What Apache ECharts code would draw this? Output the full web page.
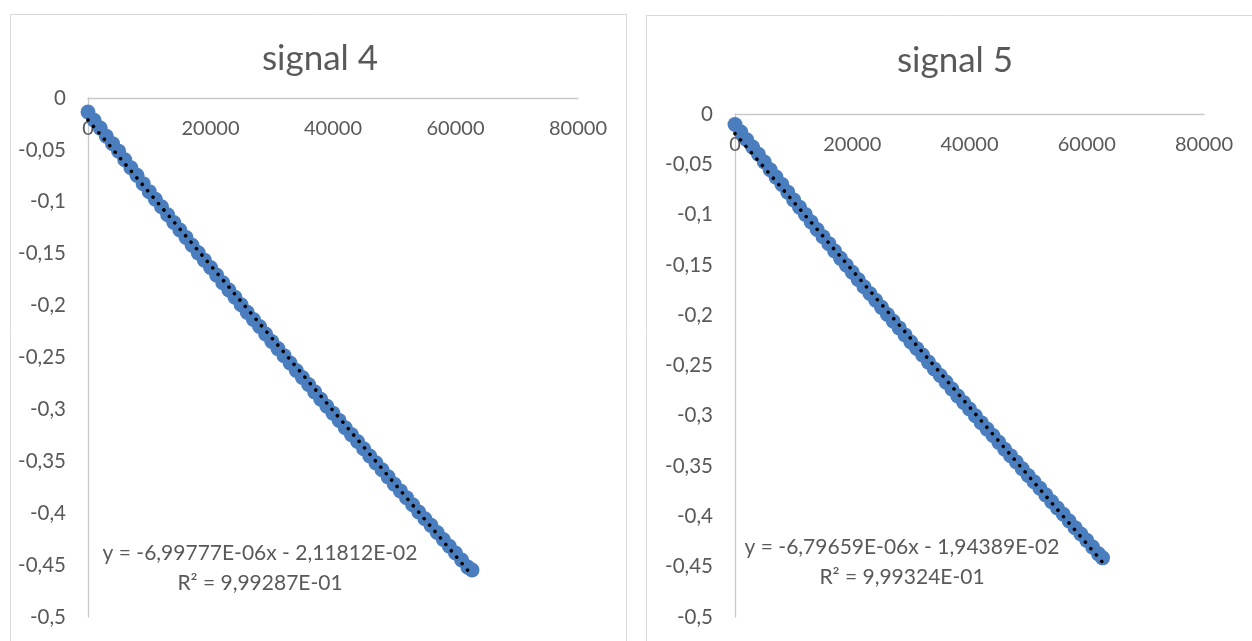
<!DOCTYPE html>
<html>
<head>
<meta charset="utf-8">
<script src="https://cdn.jsdelivr.net/npm/echarts@6/dist/echarts.min.js"></script>
<style>
html,body{margin:0;padding:0;background:#fff;}
#chart{width:1252px;height:641px;}
</style>
</head>
<body>
<div id="chart"></div>
<script>
// ---- data ----
const titles = ['signal 4', 'signal 5'];
const xTicks = [0, 20000, 40000, 60000, 80000];
const yTicks = [0, -0.05, -0.1, -0.15, -0.2, -0.25, -0.3, -0.35, -0.4, -0.45, -0.5];

const xValues = [0,1000,2000,3000,4000,5000,6000,7000,8000,9000,10000,11000,12000,13000,14000,15000,16000,17000,18000,19000,20000,21000,22000,23000,24000,25000,26000,27000,28000,29000,30000,31000,32000,33000,34000,35000,36000,37000,38000,39000,40000,41000,42000,43000,44000,45000,46000,47000,48000,49000,50000,51000,52000,53000,54000,55000,56000,57000,58000,59000,60000,61000,62000,62700];

const signal4 = [-0.0135,-0.0215,-0.0290,-0.0368,-0.0440,-0.0512,-0.0595,-0.0672,-0.0745,-0.0825,-0.0902,-0.0975,-0.1048,-0.1125,-0.1200,-0.1272,-0.1343,-0.1418,-0.1492,-0.1562,-0.1633,-0.1706,-0.1780,-0.1850,-0.1919,-0.1992,-0.2065,-0.2134,-0.2202,-0.2274,-0.2346,-0.2414,-0.2482,-0.2553,-0.2625,-0.2692,-0.2760,-0.2831,-0.2902,-0.2969,-0.3036,-0.3106,-0.3177,-0.3243,-0.3309,-0.3379,-0.3449,-0.3515,-0.3581,-0.3650,-0.3720,-0.3785,-0.3850,-0.3919,-0.3988,-0.4053,-0.4117,-0.4186,-0.4254,-0.4318,-0.4383,-0.4451,-0.4519,-0.4547];

const signal5 = [-0.0105,-0.0180,-0.0256,-0.0328,-0.0400,-0.0477,-0.0554,-0.0627,-0.0700,-0.0777,-0.0854,-0.0926,-0.0998,-0.1073,-0.1148,-0.1219,-0.1289,-0.1362,-0.1435,-0.1504,-0.1573,-0.1645,-0.1717,-0.1784,-0.1851,-0.1922,-0.1993,-0.2060,-0.2126,-0.2196,-0.2266,-0.2331,-0.2396,-0.2466,-0.2535,-0.2600,-0.2665,-0.2734,-0.2803,-0.2868,-0.2932,-0.3000,-0.3068,-0.3132,-0.3196,-0.3264,-0.3332,-0.3396,-0.3459,-0.3526,-0.3593,-0.3656,-0.3719,-0.3786,-0.3853,-0.3916,-0.3979,-0.4046,-0.4112,-0.4175,-0.4238,-0.4305,-0.4372,-0.4412];

// trendline coefficients: [slope, intercept, R²]
const trend4 = [-6.99777E-06, -2.11812E-02, 9.99287E-01];
const trend5 = [-6.79659E-06, -1.94389E-02, 9.99324E-01];

// ---- helpers ----
function fmtExp(v) {
  let s = Math.abs(v).toExponential(5);
  let [m, e] = s.split('e');
  let sign = e[0] === '-' ? '-' : '+';
  let ex = e.replace(/^[+-]/, '');
  if (ex.length < 2) ex = '0' + ex;
  return m.replace('.', ',') + 'E' + sign + ex;
}
function eqText(t) {
  const slope = (t[0] < 0 ? '-' : '') + fmtExp(t[0]);
  const inter = (t[1] < 0 ? ' - ' : ' + ') + fmtExp(t[1]);
  return 'y = ' + slope + 'x' + inter + '\nR² = ' + fmtExp(t[2]);
}
function fmtY(v) {
  const r = Math.round(v * 100) / 100;
  return String(r).replace('.', ',');
}
function fmtX(v) { return String(Math.round(v)); }
function pts(ys) { return xValues.map((x, i) => [x, ys[i]]); }
function trendPts(t) {
  const x0 = xValues[0], x1 = xValues[xValues.length - 1];
  return [[x0, t[0] * x0 + t[1]], [x1, t[0] * x1 + t[1]]];
}

const FONT = 'Lato';
const TXT = '#595959';
const BLUE = '#4A7EBE';

function xAxis(gi) {
  return {
    gridIndex: gi, type: 'value', min: xTicks[0], max: xTicks[xTicks.length - 1], interval: 20000,
    position: 'top',
    axisLine: { onZero: false, lineStyle: { color: '#C9C9C9', width: 1.3 } },
    axisTick: { show: false }, splitLine: { show: false },
    axisLabel: { inside: true, color: TXT, fontFamily: FONT, fontSize: 20, margin: 21, formatter: fmtX }
  };
}
function yAxis(gi) {
  return {
    gridIndex: gi, type: 'value', min: yTicks[yTicks.length - 1], max: yTicks[0], interval: 0.05,
    axisLine: { show: true, onZero: false, lineStyle: { color: '#C9C9C9', width: 1.3 } },
    axisTick: { show: false }, splitLine: { show: false },
    axisLabel: { color: TXT, fontFamily: FONT, fontSize: 20.5, margin: 22, formatter: fmtY }
  };
}
function scatter(gi, ys) {
  return {
    type: 'scatter', xAxisIndex: gi, yAxisIndex: gi, data: pts(ys),
    symbol: 'circle', symbolSize: 15, itemStyle: { color: BLUE, opacity: 1 }, z: 2, animation: false
  };
}
function trendLine(gi, t) {
  return {
    type: 'line', xAxisIndex: gi, yAxisIndex: gi, data: trendPts(t), symbol: 'none', z: 3,
    lineStyle: { color: '#000', width: 3.6, type: [0.01, 8.4], cap: 'round' }, animation: false, silent: true
  };
}

const chart = echarts.init(document.getElementById('chart'), null, { renderer: 'canvas' });
chart.setOption({
  backgroundColor: '#fff',
  animation: false,
  grid: [
    { left: 88, top: 98, width: 490, height: 519 },
    { left: 735, top: 114, width: 469, height: 503 }
  ],
  xAxis: [xAxis(0), xAxis(1)],
  yAxis: [yAxis(0), yAxis(1)],
  series: [scatter(0, signal4), trendLine(0, trend4), scatter(1, signal5), trendLine(1, trend5)],
  graphic: [
    { type: 'rect', shape: { x: 10.5, y: 14.5, width: 616, height: 700 }, style: { fill: 'none', stroke: '#D9D9D9', lineWidth: 1 }, z: -1 },
    { type: 'rect', shape: { x: 646.5, y: 15.5, width: 700, height: 700 }, style: { fill: 'none', stroke: '#D9D9D9', lineWidth: 1 }, z: -1 },
    { type: 'text', x: 320, y: 59, style: { text: titles[0], fill: TXT, font: '35px Lato', textAlign: 'center', textVerticalAlign: 'middle' } },
    { type: 'text', x: 955, y: 61, style: { text: titles[1], fill: TXT, font: '35px Lato', textAlign: 'center', textVerticalAlign: 'middle' } },
    { type: 'text', x: 260, y: 568, style: { text: eqText(trend4), fill: TXT, font: '21px Lato', textAlign: 'center', textVerticalAlign: 'middle', lineHeight: 30 } },
    { type: 'text', x: 902, y: 562, style: { text: eqText(trend5), fill: TXT, font: '21px Lato', textAlign: 'center', textVerticalAlign: 'middle', lineHeight: 30 } }
  ]
});
</script>
</body>
</html>
